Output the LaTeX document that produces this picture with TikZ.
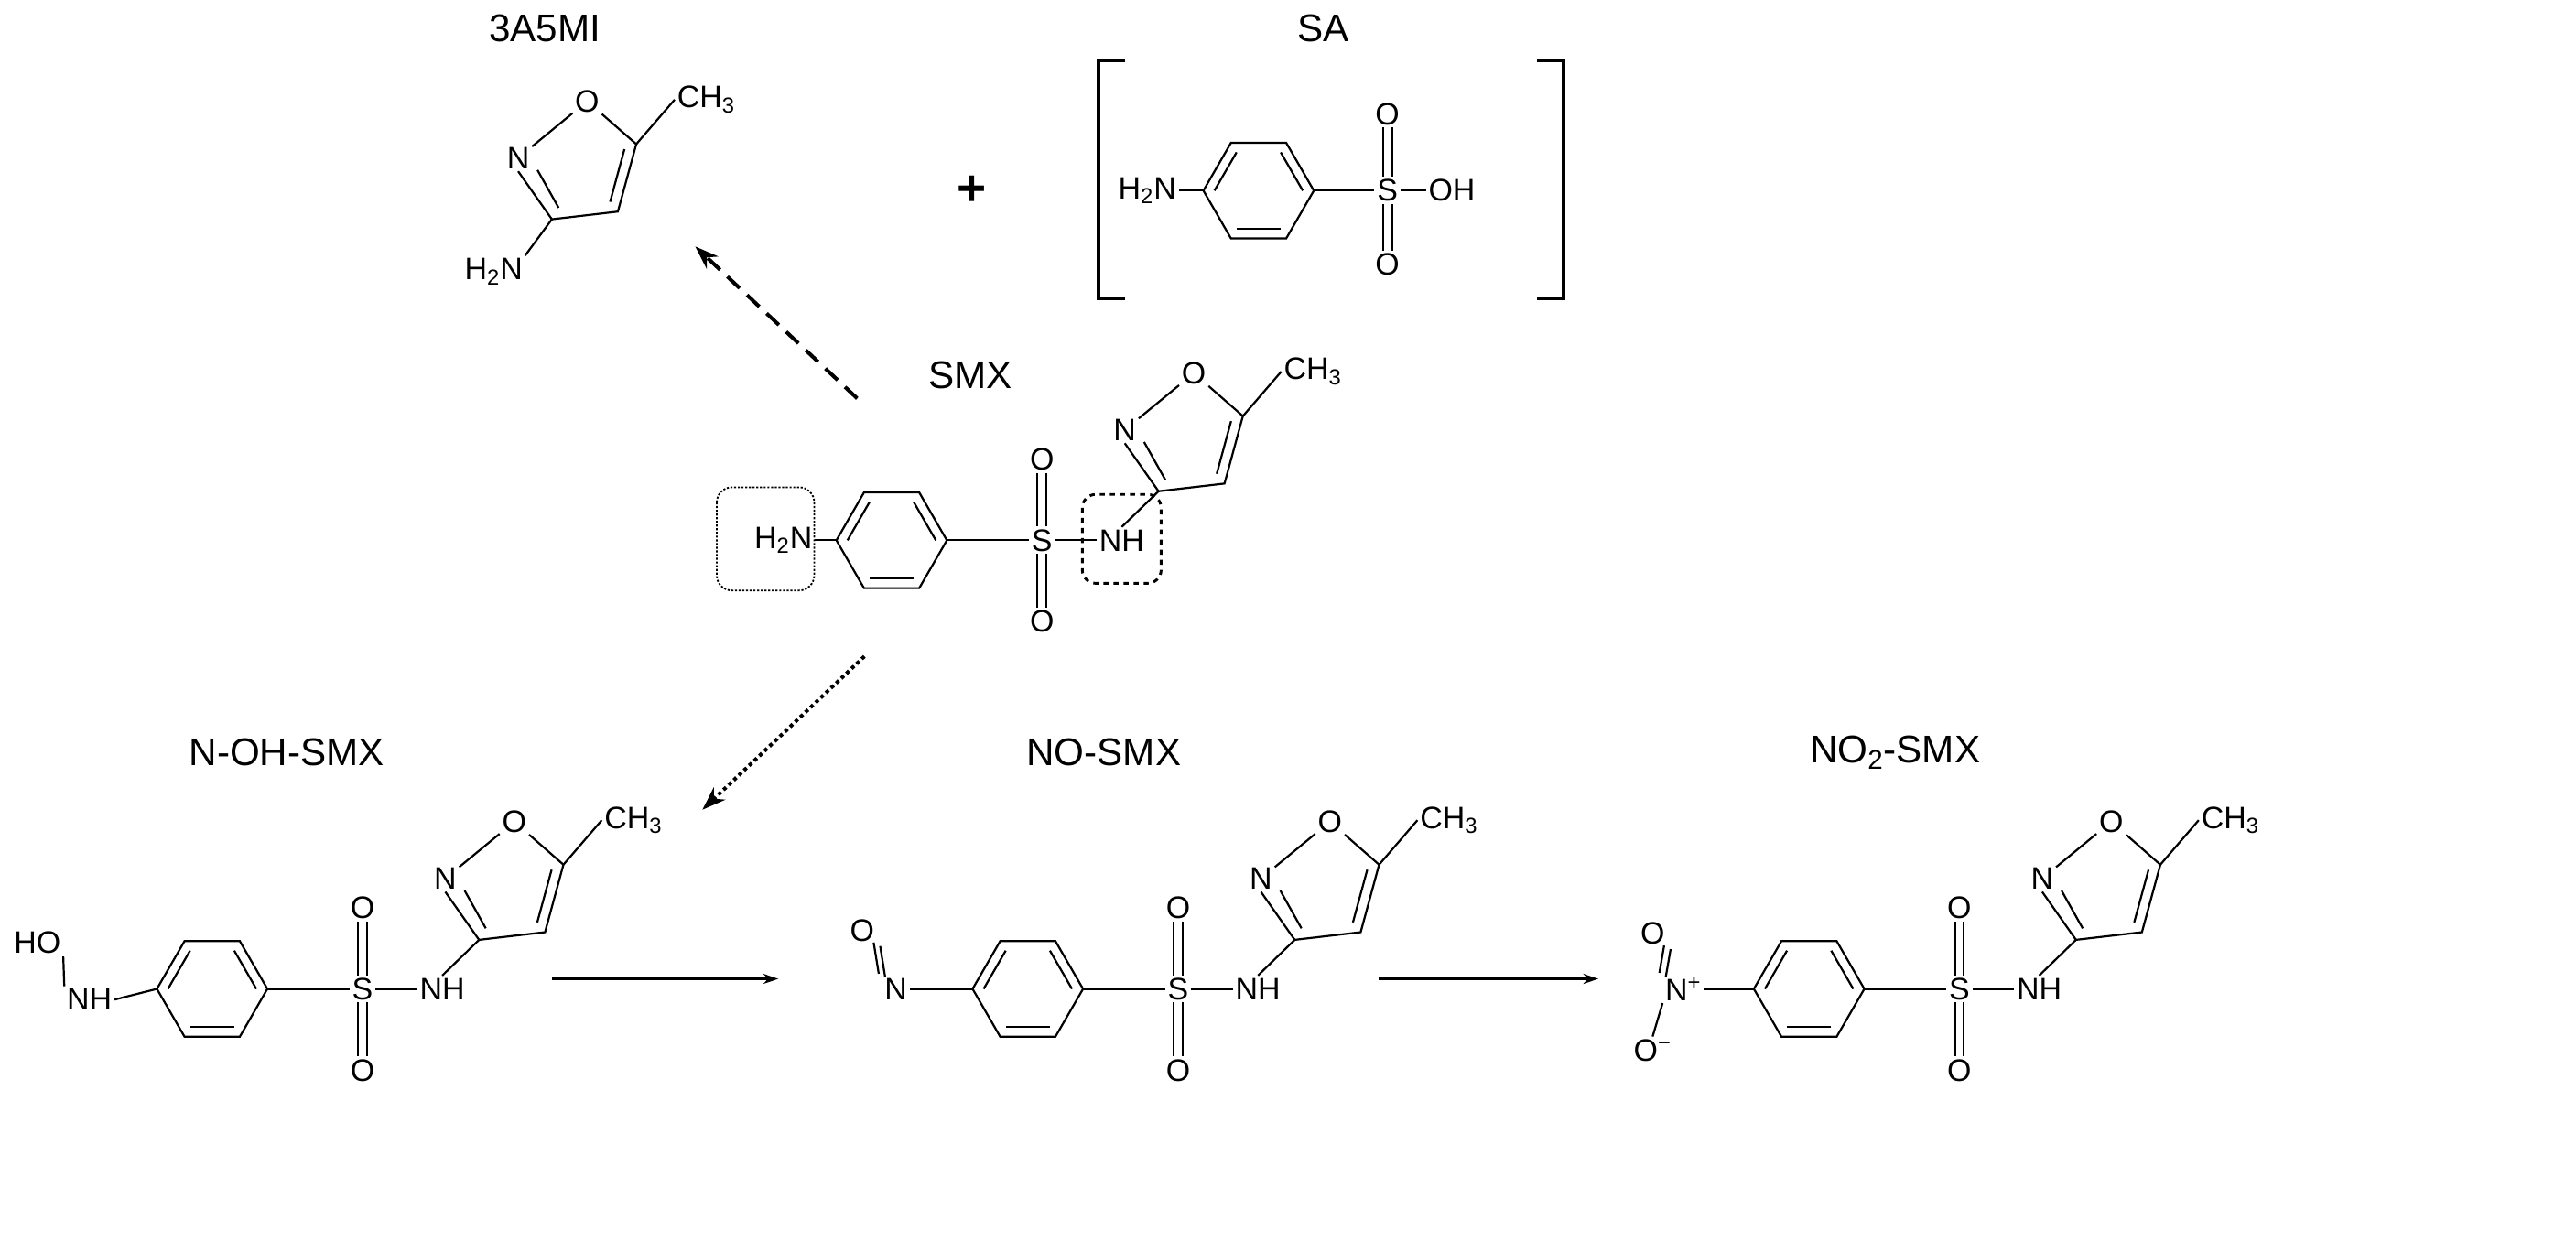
\documentclass[tikz,border=0pt]{standalone}
\usepackage{fontspec}
\setmainfont{Liberation Sans}
\usetikzlibrary{calc,arrows.meta}
\tikzset{
  atom/.style={font=\fontsize{18.5}{18.5}\selectfont, inner sep=1pt},
  lbl/.style={font=\fontsize{23}{23}\selectfont, inner sep=1pt},
  every path/.style={line width=1.2pt},
  mol/.style={scale=1.07},
}
\newcommand\benz[1]{%
  \foreach \k in {0,...,5}{\coordinate (#1r\k) at (\k*60:36);}
  \draw (#1r0)--(#1r1)--(#1r2)--(#1r3)--(#1r4)--(#1r5)--cycle;
  \coordinate (#1rc) at (0,0);
  \draw ($(#1rc)!0.8!(#1r3)$)--($(#1rc)!0.8!(#1r4)$);
  \draw ($(#1rc)!0.8!(#1r5)$)--($(#1rc)!0.8!(#1r0)$);
  \draw ($(#1rc)!0.8!(#1r1)$)--($(#1rc)!0.8!(#1r2)$);
}
\newcommand\isox[1]{% C3 at origin
  \coordinate (#1c3) at (0,0);
  \node[atom] (#1N) at (-22,-40) {N};
  \node[atom] (#1O) at (23,-77) {O};
  \coordinate (#1c5) at (55,-49);
  \coordinate (#1c4) at (43,-5);
  \node[atom,anchor=west] (#1Me) at (80,-78) {CH\textsubscript{3}};
  \coordinate (#1ic) at (20,-34);
  \draw (#1c3)--(#1N.south);
  \draw ($(#1ic)!0.78!(#1c3)$)--($(#1ic)!0.7!(#1N.south)$);
  \draw (#1N)--(#1O);
  \draw (#1O)--(#1c5)--(#1c4)--(#1c3);
  \draw ($(#1ic)!0.78!(#1c5)$)--($(#1ic)!0.78!(#1c4)$);
  \draw (#1c5)--(#1Me.west);
}
\newcommand\smx[1]{% ring center at origin
  \benz{#1}
  \node[atom] (#1S) at (98,0) {S};
  \node[atom] (#1Oa) at (98,-53) {O};
  \node[atom] (#1Ob) at (98,53) {O};
  \node[atom] (#1NH) at (150,0) {NH};
  \draw (#1r0)--(#1S);
  \draw (#1S)--(#1NH);
  \draw ([xshift=-2.5pt]#1S.north)--([xshift=-2.5pt]#1Oa.south);
  \draw ([xshift=2.5pt]#1S.north)--([xshift=2.5pt]#1Oa.south);
  \draw ([xshift=-2.5pt]#1S.south)--([xshift=-2.5pt]#1Ob.north);
  \draw ([xshift=2.5pt]#1S.south)--([xshift=2.5pt]#1Ob.north);
  \begin{scope}[shift={(174,-32)}]
    \isox{#1i}
  \end{scope}
  \draw (#1NH.north)--(#1ic3);
}
\begin{document}
\begin{tikzpicture}[x=0.3mm,y=-0.3mm]
\useasboundingbox (0,0) rectangle (1797,873);
% titles
\node[lbl] (t1) at (380,20) {3A5MI};
\node[lbl] (t2) at (923,20) {SA};
\node[lbl] (t3) at (677,262) {SMX};
\node[lbl] (t4) at (200,525) {N-OH-SMX};
\node[lbl] (t5) at (770,525) {NO-SMX};
\node[lbl] (t6) at (1322,525) {NO\textsubscript{2}-SMX};
\node[font=\fontsize{30}{30}\selectfont\bfseries] (plus) at (678,133) {+};
% 3A5MI
\begin{scope}[shift={(385,153)},mol]
  \isox{a}
  \node[atom] (aNH2) at (-38,34) {H\textsubscript{2}N};
  \draw (ac3)--(aNH2.north east);
\end{scope}
% SA
\begin{scope}[shift={(878,133)},mol]
  \benz{sa}
  \node[atom,anchor=east] (saN) at (-52,0) {H\textsubscript{2}N};
  \draw (sar3)--(saN.east);
  \node[atom] (saS) at (84,0) {S};
  \node[atom] (saOa) at (84,-50) {O};
  \node[atom] (saOb) at (84,48) {O};
  \node[atom] (saOH) at (126,0) {OH};
  \draw (sar0)--(saS); \draw (saS)--(saOH);
  \draw ([xshift=-2.5pt]saS.north)--([xshift=-2.5pt]saOa.south);
  \draw ([xshift=2.5pt]saS.north)--([xshift=2.5pt]saOa.south);
  \draw ([xshift=-2.5pt]saS.south)--([xshift=-2.5pt]saOb.north);
  \draw ([xshift=2.5pt]saS.south)--([xshift=2.5pt]saOb.north);
\end{scope}
\draw[line width=2.2pt] (785,42)--(766,42)--(766,208)--(785,208);
\draw[line width=2.2pt] (1072,42)--(1091,42)--(1091,208)--(1072,208);
% SMX
\begin{scope}[shift={(622,377)},mol]
  \smx{m}
  \node[atom,anchor=east] (mN) at (-50,0) {H\textsubscript{2}N};
  \draw (mr3)--(mN.east);
\end{scope}
\draw[densely dotted, line width=1pt, rounded corners=9pt] (500,340) rectangle (568,412);
\draw[dashed, line width=1.6pt, rounded corners=8pt] (755,345) rectangle (810,407);
% N-OH-SMX
\begin{scope}[shift={(148,690)},mol]
  \smx{p}
  \node[atom] (pN) at (-80,7) {NH};
  \node[atom] (pO) at (-114,-30) {HO};
  \draw (pr3)--(pN.east);
  \draw (pN.north west)--(pO.south east);
\end{scope}
% NO-SMX
\begin{scope}[shift={(717,690)},mol]
  \smx{q}
  \node[atom] (qN) at (-86,0) {N};
  \node[atom] (qO) at (-108,-38) {O};
  \draw (qr3)--(qN);
  \draw ([xshift=-1.8pt,yshift=1pt]qN.north west)--([xshift=-1.8pt,yshift=1pt]qO.south east);
  \draw ([xshift=1.8pt,yshift=-1pt]qN.north west)--([xshift=1.8pt,yshift=-1pt]qO.south east);
\end{scope}
% NO2-SMX
\begin{scope}[shift={(1262,690)},mol]
  \smx{s}
  \node[atom] (sN) at (-82,0) {N\textsuperscript{+}};
  \node[atom] (sO1) at (-102,-36) {O};
  \node[atom] (sO2) at (-102,40) {O\textsuperscript{−}};
  \draw (sr3)--(sN.east);
  \draw ([xshift=-1.8pt,yshift=1pt]sN.north west)--([xshift=-1.8pt,yshift=1pt]sO1.south east);
  \draw ([xshift=1.8pt,yshift=-1pt]sN.north west)--([xshift=1.8pt,yshift=-1pt]sO1.south east);
  \draw (sN.south west)--(sO2.north);
\end{scope}
% arrows
\coordinate (d1) at (598,278); \coordinate (d2) at (485,172);
\draw[line width=2.2pt, dash pattern=on 10pt off 6pt, -{Stealth[length=14pt,width=10pt]}] (d1)--(d2);
\coordinate (e1) at (603,458); \coordinate (e2) at (490,565);
\draw[line width=2.2pt, dotted, -{Stealth[length=14pt,width=10pt]}] (e1)--(e2);
\coordinate (f1) at (385,683); \coordinate (f2) at (543,683);
\draw[-{Stealth[length=9pt,width=6pt]}] (f1)--(f2);
\coordinate (g1) at (962,683); \coordinate (g2) at (1115,683);
\draw[-{Stealth[length=9pt,width=6pt]}] (g1)--(g2);
\end{tikzpicture}
\end{document}
